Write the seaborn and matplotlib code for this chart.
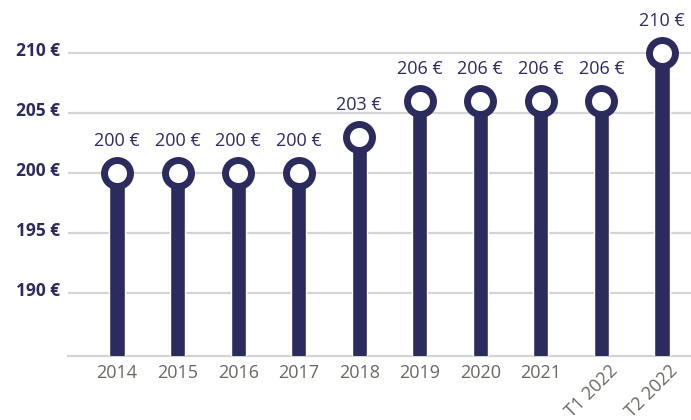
import matplotlib
matplotlib.use("Agg")
import matplotlib.pyplot as plt
import matplotlib.transforms as mtransforms
import seaborn as sns
import pandas as pd

sns.set_style("white")
plt.rcParams["font.family"] = ["Open Sans", "DejaVu Sans"]

NAVY = "#2c2b5e"
GREY_TXT = "#6b6661"
GRID = "#d4d4d4"

periods = ["2014", "2015", "2016", "2017", "2018", "2019", "2020", "2021", "T1 2022", "T2 2022"]
prices = [200, 200, 200, 200, 203, 206, 206, 206, 206, 210]
yticks = [190, 195, 200, 205, 210]

df = pd.DataFrame({"period": periods, "price": prices})

fig = plt.figure(figsize=(6.91, 4.20), dpi=100)
ax = fig.add_axes([68 / 691, 64 / 420, 1 - 68 / 691, 356 / 420])

sns.barplot(data=df, x="period", y="price", color=NAVY, width=0.25,
            saturation=1, ax=ax, zorder=2)
sns.scatterplot(data=df, x="period", y="price", s=350, color="white",
                edgecolor=NAVY, linewidth=5.0, ax=ax, zorder=3, legend=False)

for i, v in enumerate(prices):
    ax.annotate(f"{v} €", (i, v), xytext=(0, 23), textcoords="offset points",
                ha="center", va="center", fontsize=13, color=NAVY)

ax.set_ylim(184.78, 214.45)
ax.set_xlim(-0.81, 9.48)
ax.set_yticks(yticks)
ax.set_yticklabels([f"{t} €" for t in yticks], fontsize=12.5,
                   fontweight="bold", color=NAVY)
ax.yaxis.grid(True, color=GRID, linewidth=1.6, zorder=0)
ax.set_axisbelow(True)
ax.tick_params(axis="y", length=0, pad=6)
ax.tick_params(axis="x", length=0, pad=6, labelsize=13, labelcolor=GREY_TXT)
ax.set_xlabel("")
ax.set_ylabel("")

# y labels sit a little above their gridlines in the original
up = mtransforms.ScaledTranslation(0, 4 / 100, fig.dpi_scale_trans)
for lbl in ax.get_yticklabels():
    lbl.set_transform(lbl.get_transform() + up)

shift = mtransforms.ScaledTranslation(7 / 100, 3 / 100, fig.dpi_scale_trans)
for lbl in ax.get_xticklabels()[-2:]:
    lbl.set_rotation(45)
    lbl.set_ha("right")
    lbl.set_va("top")
    lbl.set_rotation_mode("anchor")
    lbl.set_transform(lbl.get_transform() + shift)

for side in ["top", "right", "left"]:
    ax.spines[side].set_visible(False)
ax.spines["bottom"].set_color(GRID)
ax.spines["bottom"].set_linewidth(1.6)
ax.spines["bottom"].set_zorder(1)

fig.savefig("out.png", dpi=100)
plt.close(fig)
